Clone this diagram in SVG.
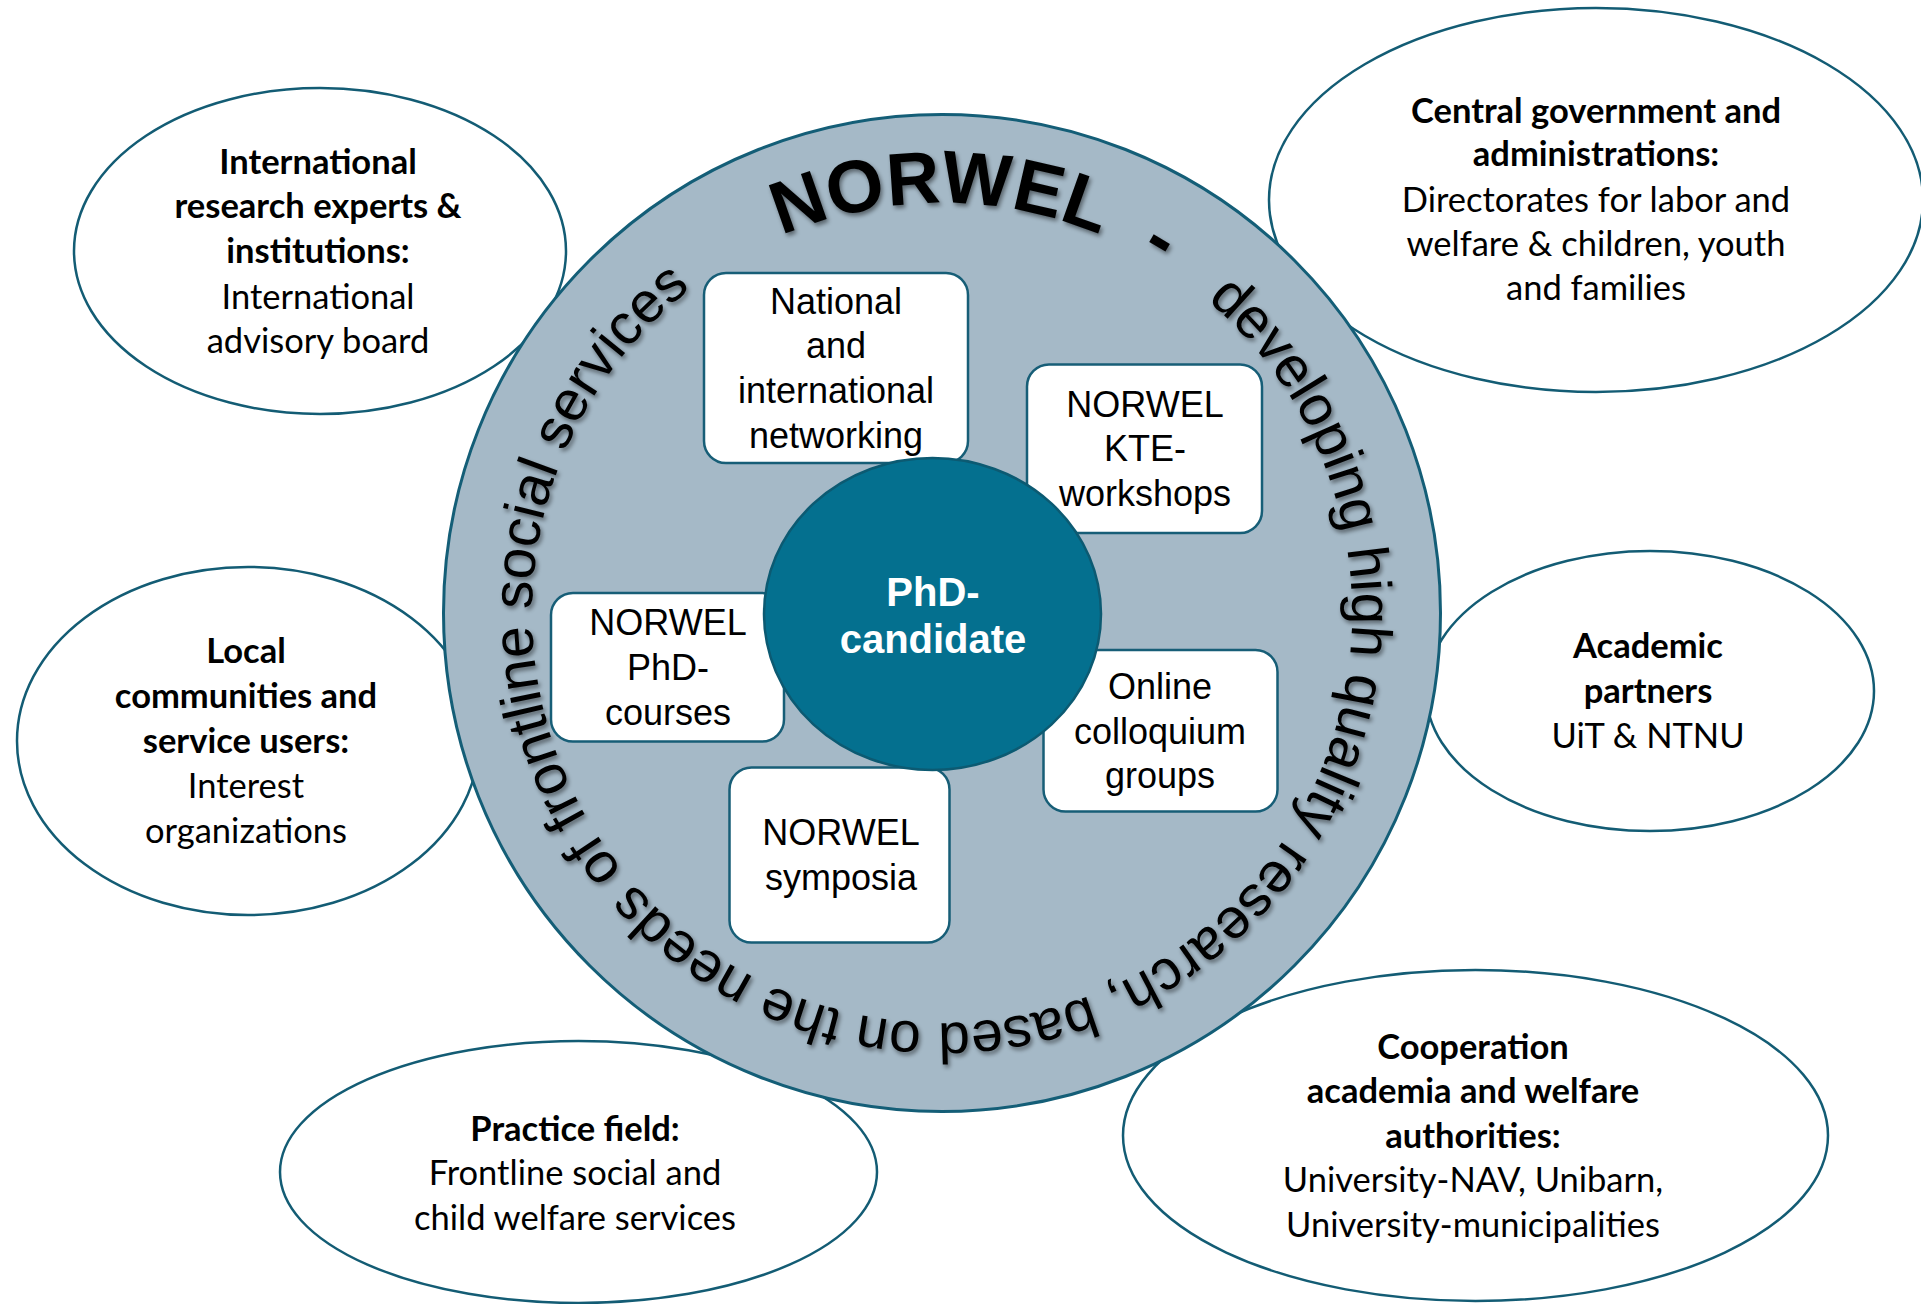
<svg xmlns="http://www.w3.org/2000/svg" width="1921" height="1304" viewBox="0 0 1921 1304">
<defs>
<style>
.ell{fill:#ffffff;stroke:#135C74;stroke-width:2.5}
.et{font-family:Lato,"Open Sans",sans-serif;font-size:34.5px;fill:#000;text-anchor:middle}
.b{font-weight:bold}
.box{fill:#ffffff;stroke:#175E77;stroke-width:2.5}
.bt{font-family:"Liberation Sans",Arial,sans-serif;font-size:36px;text-anchor:middle;fill:#000}
.arc{font-family:"Liberation Sans",Arial,sans-serif;fill:#000;font-size:57px}
.arcb{font-family:"Liberation Sans",Arial,sans-serif;fill:#000;font-size:74px;font-weight:bold;text-anchor:middle}
</style>
<filter id="sh" x="-5%" y="-5%" width="110%" height="110%">
<feDropShadow dx="2" dy="3" stdDeviation="2.2" flood-color="#000" flood-opacity="0.45"/>
</filter>
<path id="ring" d="M 730.83 261.56 A 410 410 0 0 1 1351.94 605.84 A 410 410 0 0 1 743.23 971.59 A 410 410 0 0 1 730.83 261.56"/>
</defs>
<rect width="1921" height="1304" fill="#ffffff"/>

<g id="intl">
<ellipse class="ell" cx="320" cy="251" rx="246" ry="163"/>
<text class="et b" x="318" y="174">International</text>
<text class="et b" x="318" y="218">research experts &amp;</text>
<text class="et b" x="318" y="263">institutions:</text>
<text class="et" x="318" y="309">International</text>
<text class="et" x="318" y="353">advisory board</text>
</g>
<g id="central">
<ellipse class="ell" cx="1596" cy="200" rx="327" ry="192"/>
<text class="et b" x="1596" y="123">Central government and</text>
<text class="et b" x="1596" y="166">administrations:</text>
<text class="et" x="1596" y="212">Directorates for labor and</text>
<text class="et" x="1596" y="256">welfare &amp; children, youth</text>
<text class="et" x="1596" y="300">and families</text>
</g>
<g id="local">
<ellipse class="ell" cx="248" cy="741" rx="231" ry="174"/>
<text class="et b" x="246" y="663">Local</text>
<text class="et b" x="246" y="708">communities and</text>
<text class="et b" x="246" y="753">service users:</text>
<text class="et" x="246" y="798">Interest</text>
<text class="et" x="246" y="843">organizations</text>
</g>
<g id="academic">
<ellipse class="ell" cx="1650" cy="691" rx="224" ry="140"/>
<text class="et b" x="1648" y="658">Academic</text>
<text class="et b" x="1648" y="703">partners</text>
<text class="et" x="1648" y="748">UiT &amp; NTNU</text>
</g>
<g id="practice">
<ellipse class="ell" cx="578.5" cy="1172" rx="298.5" ry="131"/>
<text class="et b" x="575" y="1141">Practice field:</text>
<text class="et" x="575" y="1185">Frontline social and</text>
<text class="et" x="575" y="1230">child welfare services</text>
</g>
<g id="cooperation">
<ellipse class="ell" cx="1475.5" cy="1135.5" rx="352.5" ry="165.5"/>
<text class="et b" x="1473" y="1059">Cooperation</text>
<text class="et b" x="1473" y="1103">academia and welfare</text>
<text class="et b" x="1473" y="1148">authorities:</text>
<text class="et" x="1473" y="1192">University-NAV, Unibarn,</text>
<text class="et" x="1473" y="1237">University-municipalities</text>
</g>

<g id="norwel-ring">
<circle cx="942" cy="613" r="498.5" fill="#A5B9C7" stroke="#145E77" stroke-width="3"/>
<g filter="url(#sh)">
<text class="arcb"><textPath href="#ring" startOffset="220.4">NORWEL</textPath></text>
<text class="arcb"><textPath href="#ring" startOffset="439.7">-</textPath></text>
<text class="arc"><textPath href="#ring" startOffset="509.5">developing</textPath></text>
<text class="arc"><textPath href="#ring" startOffset="801">high</textPath></text>
<text class="arc"><textPath href="#ring" startOffset="924.6">quality</textPath></text>
<text class="arc"><textPath href="#ring" startOffset="1105.2">research,</textPath></text>
<text class="arc"><textPath href="#ring" startOffset="1358.6">based</textPath></text>
<text class="arc"><textPath href="#ring" startOffset="1529.7">on</textPath></text>
<text class="arc"><textPath href="#ring" startOffset="1608.9">the</textPath></text>
<text class="arc"><textPath href="#ring" startOffset="1704">needs</textPath></text>
<text class="arc"><textPath href="#ring" startOffset="1875.1">of</textPath></text>
<text class="arc"><textPath href="#ring" startOffset="1938.5">frontline</textPath></text>
<text class="arc"><textPath href="#ring" startOffset="2157.1">social</textPath></text>
<text class="arc"><textPath href="#ring" startOffset="2318.6">services</textPath></text>
</g>
</g>

<g id="networking">
<rect class="box" x="704" y="273" width="264" height="190" rx="22"/>
<text class="bt" x="836" y="314">National</text>
<text class="bt" x="836" y="358">and</text>
<text class="bt" x="836" y="403">international</text>
<text class="bt" x="836" y="448">networking</text>
</g>
<g id="kte">
<rect class="box" x="1027" y="364.5" width="235" height="168.5" rx="22"/>
<text class="bt" x="1145" y="417">NORWEL</text>
<text class="bt" x="1145" y="461">KTE-</text>
<text class="bt" x="1145" y="506">workshops</text>
</g>
<g id="courses">
<rect class="box" x="551" y="593" width="233" height="148.5" rx="22"/>
<text class="bt" x="668" y="635">NORWEL</text>
<text class="bt" x="668" y="680">PhD-</text>
<text class="bt" x="668" y="725">courses</text>
</g>
<g id="colloquium">
<rect class="box" x="1043.5" y="650" width="234" height="161.5" rx="22"/>
<text class="bt" x="1160" y="699">Online</text>
<text class="bt" x="1160" y="743.5">colloquium</text>
<text class="bt" x="1160" y="787.5">groups</text>
</g>
<g id="symposia">
<rect class="box" x="729.5" y="767.5" width="220" height="175" rx="22"/>
<text class="bt" x="841" y="845">NORWEL</text>
<text class="bt" x="841" y="890">symposia</text>
</g>
<g id="phd">
<ellipse cx="932.5" cy="614" rx="168.5" ry="156" fill="#04708F" stroke="#0C5A72" stroke-width="2.5"/>
<text x="933" y="606" font-family="'Liberation Sans',Arial,sans-serif" font-size="40" font-weight="bold" fill="#ffffff" text-anchor="middle">PhD-</text>
<text x="933" y="653" font-family="'Liberation Sans',Arial,sans-serif" font-size="40" font-weight="bold" fill="#ffffff" text-anchor="middle">candidate</text>
</g>
<g id="connectors"></g>
</svg>
